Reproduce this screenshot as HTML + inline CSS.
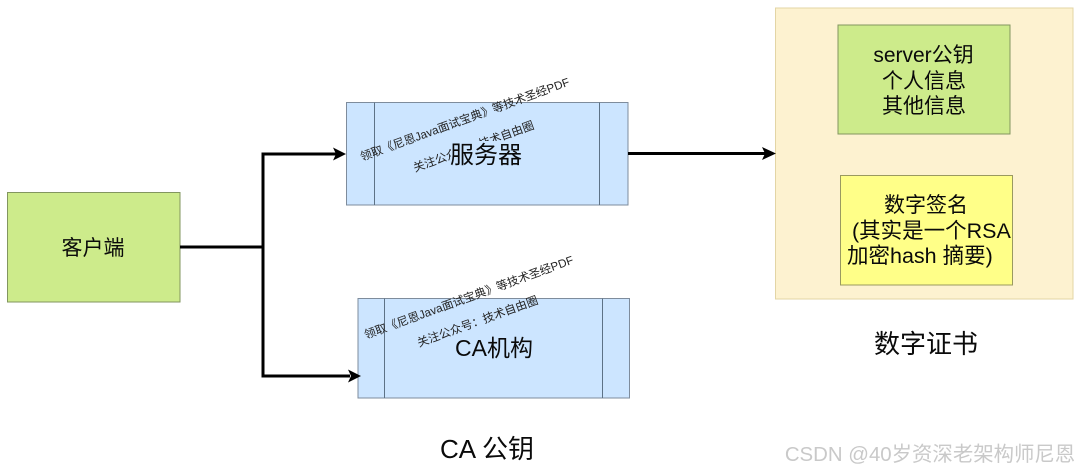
<!DOCTYPE html>
<html lang="zh">
<head>
<meta charset="utf-8">
<style>
html,body{margin:0;padding:0;background:#fff;width:1080px;height:471px;overflow:hidden}
svg{display:block}
text{font-family:"Liberation Sans","Noto Sans CJK SC",sans-serif;fill:#0a0a0a;text-anchor:middle}
.r{font-size:11.6px;text-anchor:start;fill:#222}
.s{text-anchor:start}
</style>
</head>
<body>
<svg width="1080" height="471" viewBox="0 0 1080 471" xmlns="http://www.w3.org/2000/svg">
<rect x="0" y="0" width="1080" height="471" fill="#fff"/>

<!-- certificate -->
<rect x="775.5" y="8" width="297.5" height="291" fill="#fdf2d0" stroke="#e3d5a5" stroke-width="1"/>
<rect x="838" y="25" width="172" height="109" fill="#cdeb8b" stroke="#82965f" stroke-width="1"/>
<rect x="840.5" y="175.5" width="172" height="109.5" fill="#ffff88" stroke="#9a9a60" stroke-width="1"/>

<!-- client -->
<rect x="7.5" y="192.5" width="172.5" height="109.5" fill="#cdeb8b" stroke="#82965f" stroke-width="1"/>

<!-- server -->
<rect x="346.5" y="102.5" width="281.5" height="102.5" fill="#cce5ff" stroke="#7e8c9c" stroke-width="1"/>
<line x1="374.5" y1="102.5" x2="374.5" y2="205" stroke="#5d7286" stroke-width="1"/>
<line x1="599.5" y1="102.5" x2="599.5" y2="205" stroke="#5d7286" stroke-width="1"/>

<!-- CA -->
<rect x="358" y="298.5" width="271.5" height="99.5" fill="#cce5ff" stroke="#7e8c9c" stroke-width="1"/>
<line x1="384.5" y1="298.5" x2="384.5" y2="398" stroke="#5d7286" stroke-width="1"/>
<line x1="602.5" y1="298.5" x2="602.5" y2="398" stroke="#5d7286" stroke-width="1"/>

<!-- connectors -->
<g fill="none" stroke="#000" stroke-width="3">
<path d="M180 247H263"/>
<path d="M336 154H263V376H350"/>
<path d="M628 153.5H765"/>
</g>
<g fill="#000">
<path d="M346 154L333 147.5L336 154L333 160.5Z"/>
<path d="M361 376L348 369.5L351 376L348 382.5Z"/>
<path d="M776 153.5L762 147L765 153.5L762 160Z"/>
</g>

<!-- rotated labels -->
<text class="r" transform="translate(362,161) rotate(-20)">领取《尼恩Java面试宝典》等技术圣经PDF</text>
<text class="r" transform="translate(415,172) rotate(-20)">关注公众号：技术自由圈</text>
<text class="r" transform="translate(366,339) rotate(-20)">领取《尼恩Java面试宝典》等技术圣经PDF</text>
<text class="r" transform="translate(419,347) rotate(-20)">关注公众号：技术自由圈</text>

<!-- label behind server text -->
<rect x="451" y="141" width="72" height="26" fill="#cce5ff"/>

<text x="93" y="255" font-size="21">客户端</text>
<text x="486" y="163" font-size="24">服务器</text>
<text x="494" y="356" font-size="23">CA机构</text>

<text x="923.5" y="62" font-size="21">server公钥</text>
<text x="924" y="88" font-size="21">个人信息</text>
<text x="924" y="113" font-size="21">其他信息</text>

<text x="926" y="212" font-size="21">数字签名</text>
<text class="s" x="852" y="238" font-size="21.5">(其实是一个RSA</text>
<text class="s" x="847" y="263" font-size="21.5">加密hash 摘要)</text>

<text x="926" y="353" font-size="26">数字证书</text>
<text x="487" y="458" font-size="26">CA 公钥</text>

<text x="930" y="461" font-size="20.4" style="fill:#c9c9c9">CSDN @40岁资深老架构师尼恩</text>
</svg>
</body>
</html>
